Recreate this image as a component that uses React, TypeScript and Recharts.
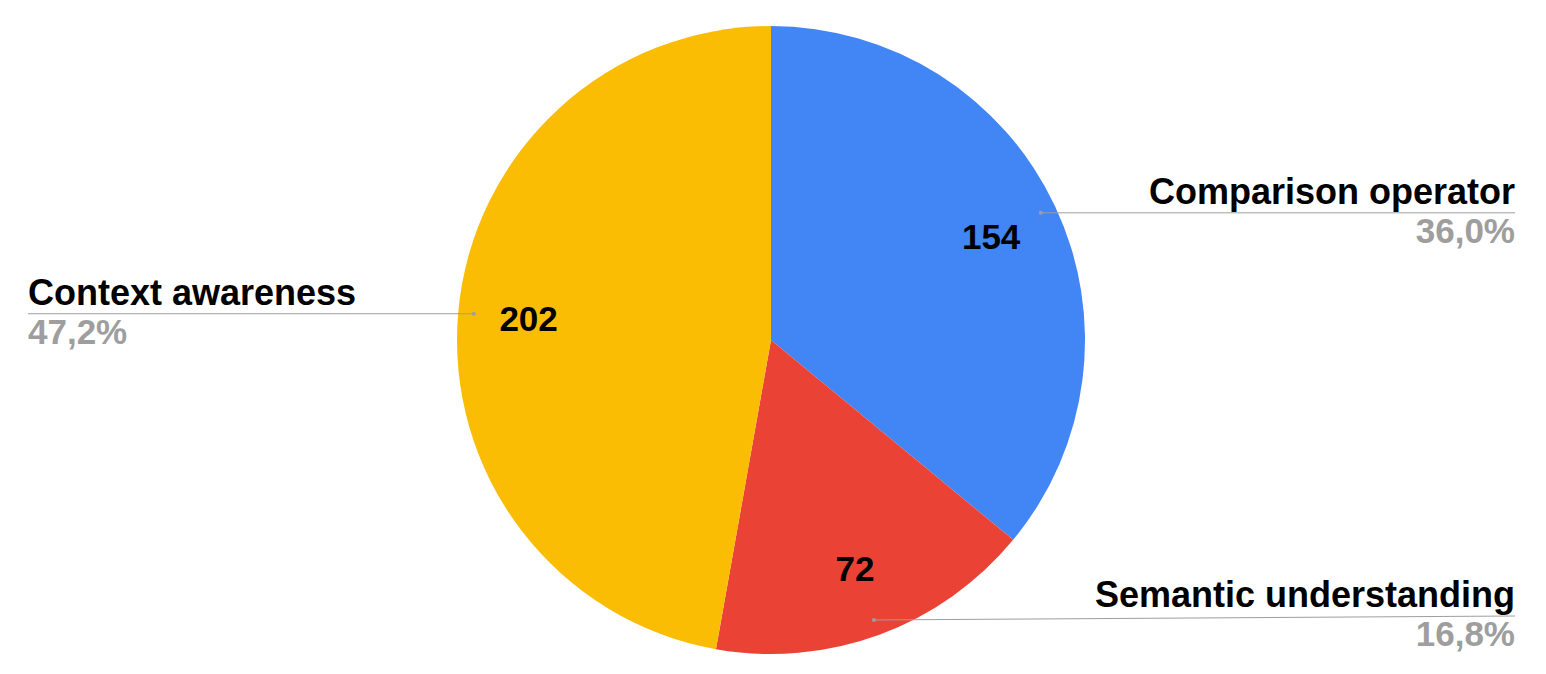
import React from "react";
import { PieChart, Pie, Cell } from "recharts";

const categories = ["Comparison operator", "Semantic understanding", "Context awareness"];
const values = [154, 72, 202];
const percentLabels = ["36,0%", "16,8%", "47,2%"];
const colors = ["#4285F4", "#EA4335", "#FBBC04"];

const data = categories.map((name, i) => ({ name, value: values[i], pct: percentLabels[i] }));

const W = 1546;
const H = 674;
const RAD = Math.PI / 180;
const FONT = "'Liberation Sans', Arial, sans-serif";

const renderLabel = (props: any) => {
  const { cx, cy, midAngle, outerRadius, index } = props;
  const cos = Math.cos(-midAngle * RAD);
  const sin = Math.sin(-midAngle * RAD);
  const dx = cx + outerRadius * 0.95 * cos;
  const dy = cy + outerRadius * 0.95 * sin;
  const vx = cx + outerRadius * 0.775 * cos;
  const vy = cy + outerRadius * 0.775 * sin;
  const right = cos >= 0;
  const lineY = Math.min(dy, H - 58);
  const endX = right ? 1515 : 28;
  const anchor = right ? "end" : "start";
  const d = data[index];
  return (
    <g>
      <text x={vx} y={vy} textAnchor="middle" dominantBaseline="central" fill="#000" fontFamily={FONT} fontWeight="bold" fontSize={35}>
        {d.value}
      </text>
      <line x1={dx} y1={dy} x2={endX} y2={lineY} stroke="#9e9e9e" strokeWidth={1} />
      <circle cx={dx} cy={dy} r={2} fill="#9e9e9e" />
      <text x={endX} y={lineY - 9} textAnchor={anchor} fill="#000" fontFamily={FONT} fontWeight="bold" fontSize={36}>
        {d.name}
      </text>
      <text x={endX} y={lineY + 30} textAnchor={anchor} fill="#9e9e9e" fontFamily={FONT} fontWeight="bold" fontSize={35}>
        {d.pct}
      </text>
    </g>
  );
};

export default function App() {
  return (
    <div style={{ position: "absolute", left: 0, top: 0, width: W, height: H, background: "#fff" }}>
      <PieChart width={W} height={H} margin={{ top: 0, right: 0, bottom: 0, left: 0 }}>
        <Pie
          data={data}
          dataKey="value"
          nameKey="name"
          cx={771}
          cy={340}
          outerRadius={314}
          startAngle={90}
          endAngle={-270}
          stroke="none"
          label={renderLabel}
          labelLine={false}
          isAnimationActive={false}
        >
          {data.map((_, i) => (
            <Cell key={i} fill={colors[i]} />
          ))}
        </Pie>
      </PieChart>
    </div>
  );
}
